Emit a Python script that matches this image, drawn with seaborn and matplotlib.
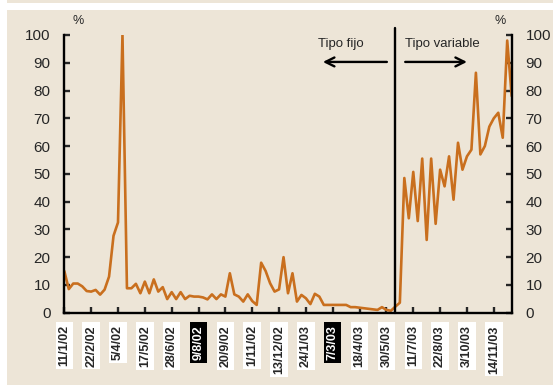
import numpy as np
import pandas as pd
import matplotlib
matplotlib.use("Agg")
import matplotlib.pyplot as plt
import seaborn as sns
from matplotlib.patches import Rectangle

# weekly share (%)
pct = [15, 8.5, 10.5, 10.5, 9.5, 7.8, 7.6, 8.2, 6.5, 8.3,
       13, 27.7, 32.5, 100, 8.8, 8.8, 10.4, 7, 11.2, 7,
       12, 7.6, 9.2, 4.9, 7.4, 4.9, 7.4, 4.9, 6.1, 5.8,
       5.8, 5.5, 4.8, 6.6, 4.9, 6.6, 5.8, 14.2, 6.6, 5.8,
       4, 6.6, 4.2, 2.8, 18, 15, 10.6, 7.6, 8.4, 20,
       7, 14.2, 4, 6.4, 5.2, 3.1, 6.8, 5.8, 2.8, 2.8,
       2.8, 2.8, 2.8, 2.8, 2, 2, 1.8, 1.6, 1.4, 1.2,
       1.0, 2, 1, 0.7, 2.2, 3.6, 48.5, 34, 50.7, 33,
       55.5, 26.2, 55.5, 32, 51.5, 45.5, 56.3, 40.7, 61.2, 51.5,
       56.3, 58.7, 86.4, 57, 60, 67, 70, 72, 63, 98,
       78]
tick_labels = ["11/1/02", "22/2/02", "5/4/02", "17/5/02", "28/6/02", "9/8/02",
               "20/9/02", "1/11/02", "13/12/02", "24/1/03", "7/3/03", "18/4/03",
               "30/5/03", "11/7/03", "22/8/03", "3/10/03", "14/11/03"]
inverted_labels = [5, 10]
divider = 73.9

BG = "#EDE5D7"
LINE = "#C96F1E"

df = pd.DataFrame({"week": np.arange(len(pct)), "pct": pct})

sns.set_style("ticks")
plt.rcParams['font.family'] = ['Liberation Sans', 'DejaVu Sans']

fig = plt.figure(figsize=(5.53, 3.85), dpi=100, facecolor=BG)
fig.patches.append(Rectangle((0, 0), 7 / 553, 1, transform=fig.transFigure,
                             facecolor="white", edgecolor="none", zorder=0))
fig.patches.append(Rectangle((0, 1 - 10 / 385), 1, 7 / 385, transform=fig.transFigure,
                             facecolor="white", edgecolor="none", zorder=0))

ax = fig.add_axes([0.1163, 0.1878, 0.809, 0.7213])
ax.set_facecolor(BG)
sns.lineplot(data=df, x="week", y="pct", color=LINE, lw=1.9, ax=ax)

ax.set_xlim(0, len(pct) - 1)
ax.set_ylim(0, 100)
ax.set_xlabel("")
ax.set_ylabel("")
ax.spines["top"].set_visible(False)
for s in ["left", "right", "bottom"]:
    ax.spines[s].set_visible(True)
    ax.spines[s].set_linewidth(1.7)
    ax.spines[s].set_color("black")

ax.set_yticks(range(0, 101, 10))
ax.tick_params(axis="y", direction="in", length=4, width=1.7, left=True, right=True,
               labelleft=True, labelright=True, labelsize=11, pad=10)
ax.set_xticks(np.arange(0, 6 * len(tick_labels), 6))
ax.set_xticklabels(tick_labels, rotation=90, fontsize=9, fontweight="bold", va="top")
ax.tick_params(axis="x", direction="in", length=4, width=1.7, pad=9)
for i, lab in enumerate(ax.get_xticklabels()):
    if i in inverted_labels:
        lab.set_color("white")
        lab.set_bbox(dict(facecolor="black", edgecolor="none", pad=2))
    else:
        lab.set_bbox(dict(facecolor="white", edgecolor="none", pad=2))

ax.plot([divider, divider], [0, 102.6], color="black", lw=1.7, clip_on=False)
arrow = dict(arrowstyle="->", lw=1.7, color="black", mutation_scale=16, shrinkA=0, shrinkB=0)
ax.annotate("", xy=(57.8, 90.3), xytext=(72.1, 90.3), arrowprops=arrow)
ax.annotate("", xy=(90.0, 90.3), xytext=(76.2, 90.3), arrowprops=arrow)
ax.text(61.8, 96.8, "Tipo fijo", ha="center", va="center", fontsize=9.5)
ax.text(84.6, 96.8, "Tipo variable", ha="center", va="center", fontsize=9.5)

ax.text(0.031, 1.05, "%", transform=ax.transAxes, ha="center", va="center", fontsize=9)
ax.text(0.974, 1.05, "%", transform=ax.transAxes, ha="center", va="center", fontsize=9)

fig.savefig("out.png", dpi=100, facecolor=BG)
